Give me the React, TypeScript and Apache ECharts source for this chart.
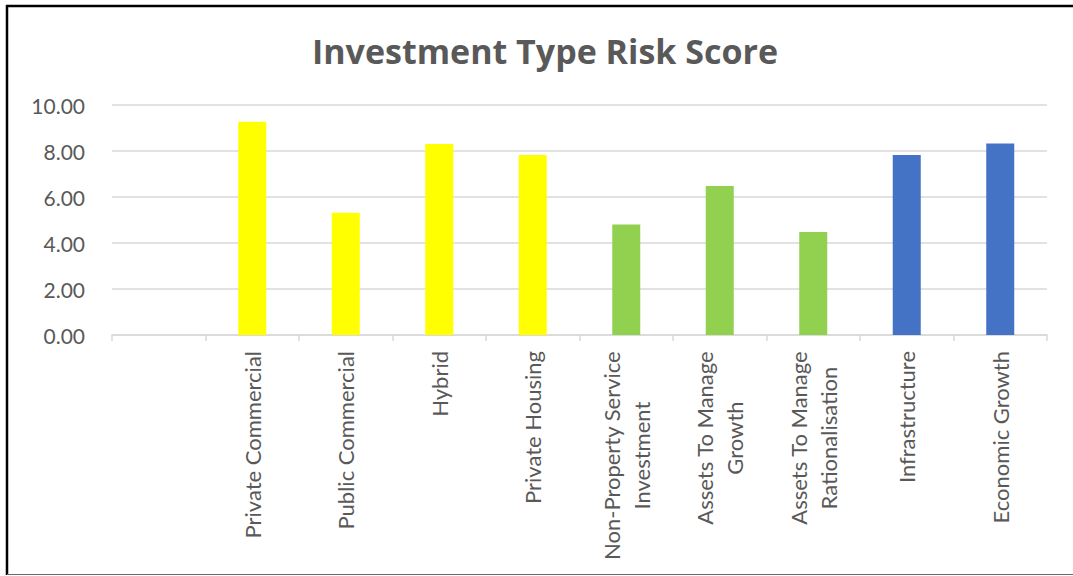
import React, { useEffect, useRef } from "react";
import * as echarts from "echarts";

const categories = [
  "",
  "Private Commercial",
  "Public Commercial",
  "Hybrid",
  "Private Housing",
  "Non-Property Service\nInvestment",
  "Assets To Manage\nGrowth",
  "Assets To Manage\nRationalisation",
  "Infrastructure",
  "Economic Growth",
];
const values: (number | null)[] = [null, 9.27, 5.32, 8.3, 7.83, 4.8, 6.48, 4.48, 7.83, 8.33];
const barColors = ["#FFFF00", "#FFFF00", "#FFFF00", "#FFFF00", "#FFFF00", "#92D050", "#92D050", "#92D050", "#4472C4", "#4472C4"];
const yTicks = [0, 2, 4, 6, 8, 10];
const title = "Investment Type Risk Score";

export default function App() {
  const ref = useRef<HTMLDivElement>(null);
  useEffect(() => {
    if (!ref.current) return;
    const chart = echarts.init(ref.current, null, { renderer: "svg" });
    const font = "Lato";
    chart.setOption({
      animation: false,
      backgroundColor: "#ffffff",
      title: {
        text: title,
        left: 540,
        top: 29,
        textAlign: "center",
        textStyle: { fontFamily: "Open Sans", fontWeight: "bold", fontSize: 34, color: "#595959" },
      },
      grid: { left: 112, right: 26, top: 105, bottom: 241, containLabel: false },
      xAxis: {
        type: "category",
        data: categories,
        axisLine: { show: true, lineStyle: { color: "#D9D9D9", width: 1.5 } },
        axisTick: { show: true, length: 6, lineStyle: { color: "#D9D9D9", width: 1.5 } },
        axisLabel: {
          rotate: 90,
          margin: 16,
          interval: 0,
          formatter: (v: string) => v.split("\n").map((l) => `{c|${l}}`).join("\n"),
          rich: {
            c: { align: "center", fontFamily: font, fontSize: 22, color: "#595959", lineHeight: 30 },
          },
        },
      },
      yAxis: {
        type: "value",
        min: yTicks[0],
        max: yTicks[yTicks.length - 1],
        interval: 2,
        axisLine: { show: false },
        axisTick: { show: false },
        splitLine: { lineStyle: { color: "#D9D9D9", width: 1.5 } },
        axisLabel: {
          margin: 27,
          fontFamily: font,
          fontSize: 21,
          color: "#595959",
          formatter: (v: number) => v.toFixed(2),
        },
      },
      series: [
        {
          type: "bar",
          barWidth: 28,
          data: values.map((v, i) => ({ value: v, itemStyle: { color: barColors[i] } })),
        },
      ],
      graphic: [
        { type: "line", shape: { x1: 7, y1: 5, x2: 7, y2: 575 }, style: { stroke: "#000", lineWidth: 2.5 } },
        { type: "line", shape: { x1: 6, y1: 6, x2: 1073, y2: 6 }, style: { stroke: "#000", lineWidth: 2.5 } },
        { type: "line", shape: { x1: 7, y1: 574.5, x2: 1073, y2: 574.5 }, style: { stroke: "#6b6b6b", lineWidth: 1.2 } },
      ],
    });
    return () => chart.dispose();
  }, []);
  return (
    <div
      ref={ref}
      style={{ position: "absolute", left: 0, top: 0, width: 1073, height: 576 }}
    />
  );
}
